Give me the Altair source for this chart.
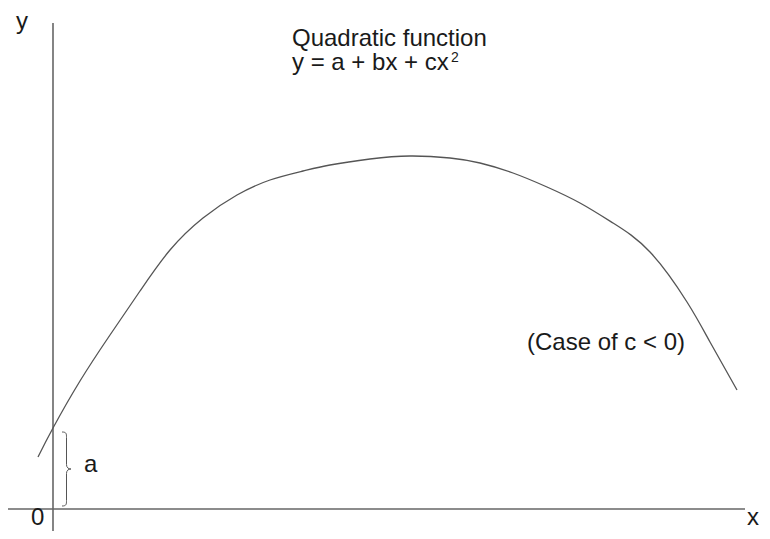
import altair as alt
import pandas as pd

# Curve of the quadratic (arbitrary units)
curve_x = [-0.15, 0.00, 0.27, 0.57, 0.87, 1.17, 1.50, 1.84, 2.17, 2.50, 2.77,
           3.17, 3.57, 3.97, 4.27, 4.60, 4.94, 5.27, 5.60, 5.97, 6.34, 6.57, 6.84]
curve_y = [0.52, 0.81, 1.28, 1.74, 2.18, 2.59, 2.91, 3.14, 3.29, 3.38, 3.44,
           3.50, 3.53, 3.51, 3.46, 3.36, 3.22, 3.06, 2.86, 2.57, 2.07, 1.67, 1.19]

# Axis lines
xaxis_from, xaxis_to = -0.46, 6.92
yaxis_from, yaxis_to = -0.22, 4.86

# Text labels
label_text = ["Quadratic function", "y = a + bx + cx", "(Case of c < 0)", "y", "0", "x", "a"]
label_x = [2.39, 2.39, 4.74, -0.37, -0.22, 6.94, 0.31]
label_y = [4.63, 4.39, 1.59, 4.80, -0.16, -0.16, 0.37]

# Superscript of the formula
sup_text = ["2"]
sup_x = [3.98]
sup_y = [4.47]

# Brace marking the intercept a
brace_x = [0.135]
brace_y = [0.40]

W, H = 754, 523
xs = alt.Scale(domain=[-0.45, 7.09], nice=False, zero=False)
ys = alt.Scale(domain=[-0.22, 5.01], nice=False, zero=False)

curve_df = pd.DataFrame({"x": curve_x, "y": curve_y})
xaxis_df = pd.DataFrame({"x": [xaxis_from], "x2": [xaxis_to], "y": [0.0]})
yaxis_df = pd.DataFrame({"x": [0.0], "y": [yaxis_from], "y2": [yaxis_to]})
label_df = pd.DataFrame({"t": label_text, "x": label_x, "y": label_y})
sup_df = pd.DataFrame({"t": sup_text, "x": sup_x, "y": sup_y})
brace_df = pd.DataFrame({"x": brace_x, "y": brace_y})

axis_color = "#666666"
X = lambda: alt.X("x:Q", scale=xs, axis=None)
Y = lambda: alt.Y("y:Q", scale=ys, axis=None)

xaxis = alt.Chart(xaxis_df).mark_rule(color=axis_color, strokeWidth=1.6).encode(
    x=X(), x2="x2:Q", y=Y())
yaxis = alt.Chart(yaxis_df).mark_rule(color=axis_color, strokeWidth=1.6).encode(
    x=X(), y=Y(), y2="y2:Q")
curve = alt.Chart(curve_df).mark_line(color="#555555", strokeWidth=1.3,
                                      interpolate="natural").encode(
    x=X(), y=Y(), order="x:Q")
brace_path = ("M -0.12 -1 C 0 -1 0 -0.95 0 -0.85 L 0 -0.12 C 0 -0.04 0.05 0 0.12 0 "
              "C 0.05 0 0 0.04 0 0.12 L 0 0.85 C 0 0.95 0 1 -0.12 1")
brace = alt.Chart(brace_df).mark_point(shape=brace_path, filled=False, size=5476,
                                       stroke="#555555", strokeWidth=1, opacity=1).encode(
    x=X(), y=Y())
labels = alt.Chart(label_df).mark_text(align="left", baseline="alphabetic",
                                       font="Liberation Sans", fontSize=24,
                                       color="#1a1a1a").encode(
    x=X(), y=Y(), text="t:N")
sup = alt.Chart(sup_df).mark_text(align="left", baseline="alphabetic",
                                  font="Liberation Sans", fontSize=14,
                                  color="#1a1a1a").encode(
    x=X(), y=Y(), text="t:N")

chart = alt.layer(xaxis, yaxis, curve, brace, labels, sup).properties(
    width=W, height=H, autosize=alt.AutoSizeParams(type="none"), padding=0,
    background="white",
).configure_view(stroke=None)

chart.save("out.html", embed_options={"renderer": "svg", "actions": False})
